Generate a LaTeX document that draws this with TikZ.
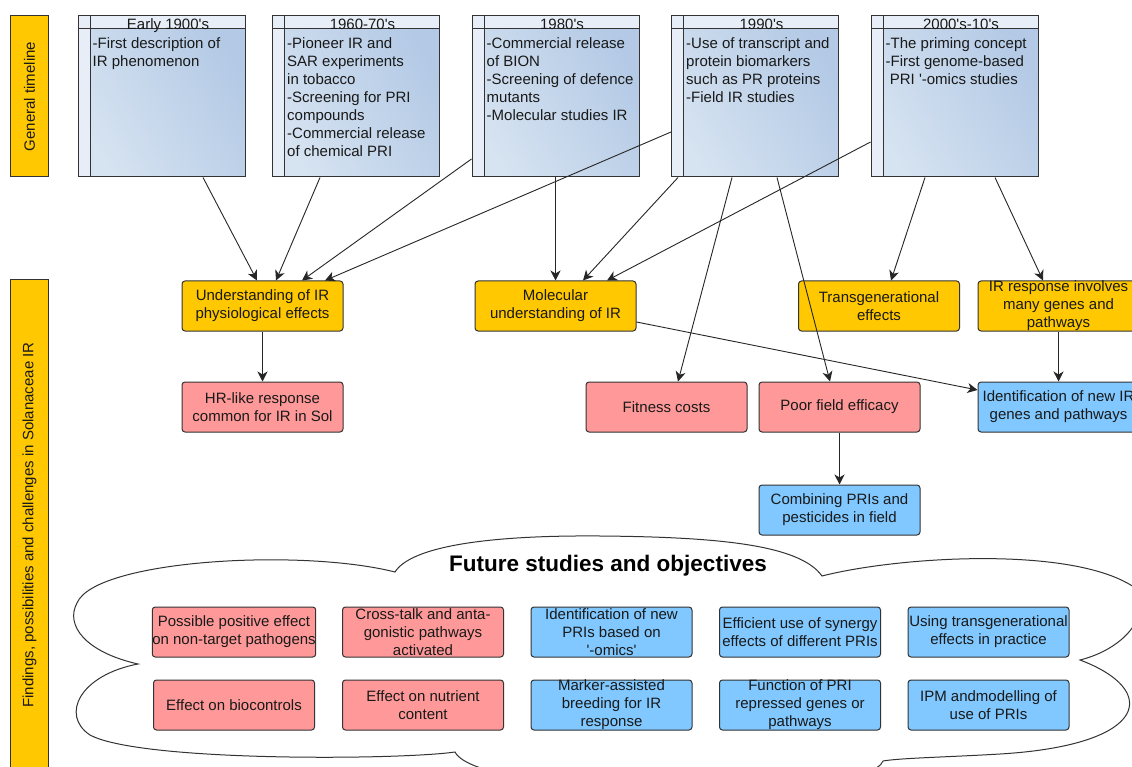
\documentclass[tikz,border=0pt]{standalone}
\usepackage{fontspec}
\setmainfont{Liberation Sans}
\usetikzlibrary{arrows.meta}
\definecolor{edge}{HTML}{333333}
\definecolor{gold}{HTML}{FFC800}
\definecolor{rose}{HTML}{FF9999}
\definecolor{sky}{HTML}{80C8FF}
\definecolor{paleA}{HTML}{D6E3F1}
\definecolor{paleB}{HTML}{B3C9E5}
\newcommand{\ap}{\textquotesingle}
\tikzset{
  txt/.style={font=\fontsize{15}{18}\selectfont, text=black!90},
  box/.style={txt, draw=edge, line width=1pt, rounded corners=3pt, minimum width=161pt, minimum height=50pt, inner sep=0pt, align=center},
  ybox/.style={box, fill=gold},
  rbox/.style={box, fill=rose},
  bbox/.style={box, fill=sky},
  side/.style={txt, draw=edge, line width=1pt, fill=gold, rotate=90, minimum height=38pt, inner sep=0pt},
  era/.style={draw=edge, line width=1pt, left color=paleA, right color=paleB, shading angle=120, minimum width=167pt, minimum height=161pt, inner sep=0pt,
    path picture={
      \fill[paleA!60!white] (path picture bounding box.north west) rectangle ([xshift=12pt]path picture bounding box.south west);
      \fill[paleA!60!white] (path picture bounding box.north west) rectangle ([yshift=-13pt]path picture bounding box.north east);
      \draw[edge, line width=1pt] ([xshift=12pt]path picture bounding box.north west) -- ([xshift=12pt]path picture bounding box.south west);
      \draw[edge, line width=1pt] ([yshift=-13pt]path picture bounding box.north west) -- ([yshift=-13pt]path picture bounding box.north east);
    }},
  erahead/.style={txt, anchor=base, inner sep=0pt},
  erabody/.style={txt, anchor=north west, align=left, inner sep=0pt},
  arr/.style={-{Stealth[length=10pt,width=10pt,inset=3pt]}, line width=0.9pt, black!85}
}
\begin{document}
\begin{tikzpicture}[x=1pt,y=-1pt]
\clip (0,0) rectangle (1132,767);
\fill[white] (0,0) rectangle (1132,767);

\node[side, minimum width=161pt] (G) at (29.5,96.5) {General timeline};
\node[side, minimum width=490pt] (S) at (29.5,525) {Findings, possibilities and challenges in Solanaceae IR};

\node[era] (E1) at (161.5,96.5) {};
\node[era] (E2) at (356,96.5) {};
\node[era] (E3) at (555.5,96.5) {};
\node[era] (E4) at (755,96.5) {};
\node[era] (E5) at (954.5,96.5) {};

\node[erahead] (H1) at ([xshift=6.5pt,yshift=-14.5pt]E1.north) {Early 1900\ap s};
\node[erahead] (H2) at ([xshift=6.5pt,yshift=-14.5pt]E2.north) {1960-70\ap s};
\node[erahead] (H3) at ([xshift=6.5pt,yshift=-14.5pt]E3.north) {1980\ap s};
\node[erahead] (H4) at ([xshift=6.5pt,yshift=-14.5pt]E4.north) {1990\ap s};
\node[erahead] (H5) at ([xshift=6.5pt,yshift=-14.5pt]E5.north) {2000\ap s-10\ap s};

\node[erabody] (B1) at ([xshift=15pt,yshift=-22pt]E1.north west) {-First description of\\IR phenomenon};
\node[erabody] (B2) at ([xshift=15pt,yshift=-22pt]E2.north west) {-Pioneer IR and\\SAR experiments\\in tobacco\\-Screening for PRI\\compounds\\-Commercial release\\of chemical PRI};
\node[erabody] (B3) at ([xshift=15pt,yshift=-22pt]E3.north west) {-Commercial release\\of BION\\-Screening of defence\\mutants\\-Molecular studies IR};
\node[erabody] (B4) at ([xshift=15pt,yshift=-22pt]E4.north west) {-Use of transcript and\\protein biomarkers\\such as PR proteins\\-Field IR studies};
\node[erabody] (B5) at ([xshift=15pt,yshift=-22pt]E5.north west) {-The priming concept\\-First genome-based\\\ PRI \ap-omics studies};

\node[ybox] (U) at (262.5,306) {Understanding of IR\\physiological effects};
\node[ybox] (M) at (555.5,306) {Molecular\\understanding of IR};
\node[ybox] (T) at (879,306) {Transgenerational\\effects};
\node[ybox] (R) at (1058.5,306) {IR response involves\\many genes and\\pathways};
\node[rbox] (H) at (262.5,407) {HR-like response\\common for IR in Sol};
\node[rbox] (F) at (666.5,407) {Fitness costs};
\node[rbox] (P) at (839.5,407) {Poor field efficacy};
\node[bbox] (N) at (1058.5,407) {Identification of new IR\\genes and pathways};
\node[bbox] (C) at (839.5,510) {Combining PRIs and\\pesticides in field};

\draw[arr] ([xshift=41.5pt]E1.south) -- ([xshift=-5.5pt]U.north);
\draw[arr] ([xshift=-36pt]E2.south) -- ([xshift=13.5pt]U.north);
\draw[arr] ([yshift=-62.5pt]E3.west) -- ([xshift=39.5pt]U.north);
\draw[arr] ([yshift=-35.5pt]E4.west) -- ([xshift=62.5pt]U.north);
\draw[arr] (E3.south) -- (M.north);
\draw[arr] ([xshift=-77pt]E4.south) -- ([xshift=27.5pt]M.north);
\draw[arr] ([yshift=-45.5pt]E5.west) -- ([xshift=51.5pt]M.north);
\draw[arr] ([xshift=-23pt]E4.south) -- ([xshift=11.5pt]F.north);
\draw[arr] ([xshift=22pt]E4.south) -- ([xshift=-9.5pt]P.north);
\draw[arr] ([xshift=-29.5pt]E5.south) -- ([xshift=12pt]T.north);
\draw[arr] ([xshift=40.5pt]E5.south) -- ([xshift=-15.5pt]R.north);
\draw[arr] (U.south) -- (H.north);
\draw[arr] ([yshift=-16pt]M.east) -- ([yshift=17pt]N.west);
\draw[arr] (R.south) -- (N.north);
\draw[arr] (P.south) -- (C.north);

\draw[edge, line width=1pt, fill=white] (138,664)
  .. controls (85,652) and (65,625) .. (77,603)
  .. controls (95,560) and (300,548) .. (395,572)
  .. controls (410,548) and (480,535) .. (600,536)
  .. controls (720,537) and (800,545) .. (822,576)
  .. controls (900,556) and (1080,545) .. (1138,590)
  .. controls (1150,620) and (1120,650) .. (1080,660)
  .. controls (1160,690) and (1150,745) .. (1000,754)
  .. controls (950,757) and (900,758) .. (883,761)
  .. controls (870,800) and (480,800) .. (455,752)
  .. controls (400,760) and (140,762) .. (90,735)
  .. controls (60,715) and (80,675) .. (138,664) -- cycle;

\node[font=\bfseries\fontsize{22.5}{26}\selectfont] (FS) at (608,566) {Future studies and objectives};

\node[rbox] (S1) at (234,632) {Possible positive effect\\on non-target pathogens};
\node[rbox] (S2) at (423,632) {Cross-talk and anta-\\gonistic pathways\\activated};
\node[bbox] (S3) at (611.5,632) {Identification of new\\PRIs based on\\\ap-omics\ap};
\node[bbox] (S4) at (800,632) {Efficient use of synergy\\effects of different PRIs};
\node[bbox] (S5) at (988.5,632) {Using transgenerational\\effects in practice};
\node[rbox] (S6) at (234,705) {Effect on biocontrols};
\node[rbox] (S7) at (423,705) {Effect on nutrient\\content};
\node[bbox] (S8) at (611.5,705) {Marker-assisted\\breeding for IR\\response};
\node[bbox] (S9) at (800,705) {Function of PRI\\repressed genes or\\pathways};
\node[bbox] (S10) at (988.5,705) {IPM andmodelling of\\use of PRIs};
\end{tikzpicture}
\end{document}
